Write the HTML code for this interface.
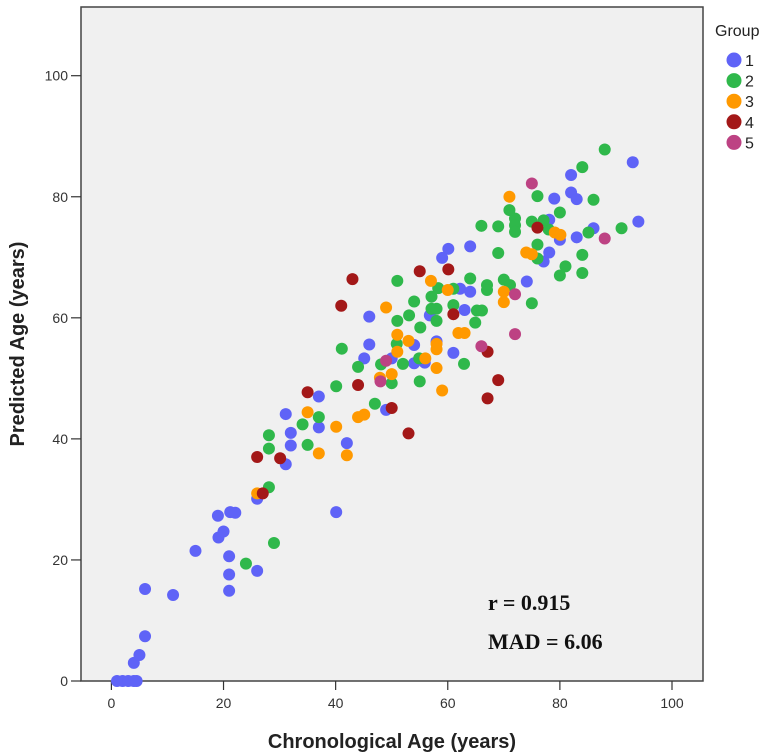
<!DOCTYPE html>
<html><head><meta charset="utf-8"><style>
html,body{margin:0;padding:0;background:#fff;}
svg{display:block;font-family:"Liberation Sans",Arial,sans-serif;}
</style></head><body>
<svg id="chart" width="770" height="755" viewBox="0 0 770 755">
<rect x="81" y="7" width="622" height="674" fill="#f0f0f0" stroke="#444" stroke-width="1.5"/>
<g id="grid-ticks"></g>
<g id="points"></g>
<text x="488" y="610" font-family="Liberation Serif,serif" font-weight="bold" font-size="22" fill="#111">r = 0.915</text>
<text x="488" y="649" font-family="Liberation Serif,serif" font-weight="bold" font-size="22" fill="#111">MAD = 6.06</text>
<text x="392" y="748" text-anchor="middle" font-weight="bold" font-size="20" fill="#222">Chronological Age (years)</text>
<text transform="translate(24,344) rotate(-90)" text-anchor="middle" font-weight="bold" font-size="20" fill="#222">Predicted Age (years)</text>
<g id="legend">
<text x="715" y="36" font-size="16" fill="#222">Group</text>
</g>
</svg>
<script>
const xTicks=[0,20,40,60,80,100];
const yTicks=[0,20,40,60,80,100];
const groups=["1","2","3","4","5"];
const colors=["#5f63f7","#2fb84b","#ff9900","#a31818","#bd4283"];
const g1=[[1,0],[2,0],[3,0],[4,0],[4.5,0],[4,3],[5,4.3],[6,7.4],[6,15.2],[11,14.2],[15,21.5],[19,27.3],[21.2,27.9],[22.1,27.8],[19.1,23.7],[20,24.7],[21,20.6],[21,17.6],[21,14.9],[26,18.2],[26,30.1],[40.1,27.9],[31.1,35.8],[32,38.9],[32,41],[31.1,44.1],[37,41.9],[37,47],[42,39.3],[45.1,53.3],[46,55.6],[49,44.8],[50,53.3],[54,55.5],[54,52.5],[55.9,52.6],[58,56.1],[61,54.2],[46,60.2],[56.8,60.4],[63,61.3],[62.2,64.8],[64,64.3],[64,71.8],[60.1,71.4],[59,69.9],[74.1,66],[77.1,69.3],[78.1,70.8],[80,72.9],[83,73.3],[86,74.8],[94,75.9],[78.1,76.2],[79,79.7],[82,80.7],[83,79.6],[82,83.6],[93,85.7]];
const g2=[[24,19.4],[29,22.8],[28.1,32],[28.1,38.4],[28.1,40.6],[34.1,42.4],[35,39],[37,43.6],[40.1,48.7],[41.1,54.9],[44,51.9],[47,45.8],[48.1,52.3],[50,49.2],[50.9,55.7],[52,52.4],[54.9,53.3],[55,49.5],[62.9,52.4],[51,66.1],[54,62.7],[57.1,61.5],[58,61.5],[53.1,60.4],[51,59.5],[58,59.5],[55.1,58.4],[61,62.1],[65.2,61.2],[64.9,59.2],[58.3,64.9],[57.1,63.5],[61,64.8],[64,66.5],[66,75.2],[69,75.1],[72,76.4],[72,75.3],[72,74.2],[71,77.8],[75,75.9],[77.1,76.1],[78,74.6],[80,77.4],[76,80.1],[86,79.5],[84,84.9],[88,87.8],[85.1,74.1],[91,74.8],[76,72.1],[76,69.8],[69,70.7],[84,70.4],[81,68.5],[80,67],[84,67.4],[67,65.4],[67,64.6],[70,66.3],[71.1,65.4],[75,62.4],[66.1,61.2]];
const g3=[[26,31],[35,44.4],[37,37.6],[40.1,42],[42,37.3],[44,43.6],[45.1,44],[47.9,50.1],[50,50.7],[51,54.4],[51,57.2],[53,56.2],[58,55.7],[58,54.8],[56,53.3],[58,51.7],[59,48],[49,61.7],[57,66.1],[60,64.6],[61.9,57.5],[63,57.5],[70,64.3],[70,62.6],[74,70.8],[75,70.5],[79.1,74.1],[80.1,73.7],[71,80]];
const g4=[[27,31],[26,37],[30.1,36.8],[35,47.7],[44,48.9],[50,45.1],[53,40.9],[41,62],[43,66.4],[55,67.7],[60.1,68],[61,60.6],[67.1,54.4],[69,49.7],[67.1,46.7],[76,74.9]];
const g5=[[48,49.5],[49,52.9],[66,55.3],[72,57.3],[72,63.9],[88,73.1],[75,82.2]];
const series=[g1,g2,g3,g4,g5];

const NS="http://www.w3.org/2000/svg";
function sx(v){return 111.4+v*5.606;}
function sy(v){return 681-v*6.053;}
function mk(t,a){const e=document.createElementNS(NS,t);for(const k in a)e.setAttribute(k,a[k]);return e;}
const gt=document.getElementById('grid-ticks');
xTicks.forEach(v=>{
  const l=mk('line',{x1:sx(v),x2:sx(v),y1:681,y2:690,stroke:'#333','stroke-width':1.2});
  
  
  gt.appendChild(l);
  const t=mk('text',{x:sx(v),y:708,'text-anchor':'middle','font-size':14,fill:'#333'});
  t.textContent=v;
  
  
  gt.appendChild(t);
});
yTicks.forEach(v=>{
  const l=mk('line',{x1:71,x2:81,y1:sy(v),y2:sy(v),stroke:'#333','stroke-width':1.2});
  
  
  gt.appendChild(l);
  const t=mk('text',{x:68,y:sy(v)+5,'text-anchor':'end','font-size':14,fill:'#333'});
  t.textContent=v;
  
  
  gt.appendChild(t);
});
const pg=document.getElementById('points');
series.forEach((s,i)=>{
  s.forEach(p=>{
    const c=mk('circle',{cx:sx(p[0]),cy:sy(p[1]),r:6,fill:colors[i]});
    
    
    pg.appendChild(c);
  });
});
const lg=document.getElementById('legend');
groups.forEach((g,i)=>{
  const y=60+i*20.6;
  const c=mk('circle',{cx:734,cy:y,r:7.5,fill:colors[i]});
  
  
  lg.appendChild(c);
  const t=mk('text',{x:745,y:y+6,'font-size':16,fill:'#222'});
  t.textContent=g;
  
  
  lg.appendChild(t);
});
</script>
</body></html>
